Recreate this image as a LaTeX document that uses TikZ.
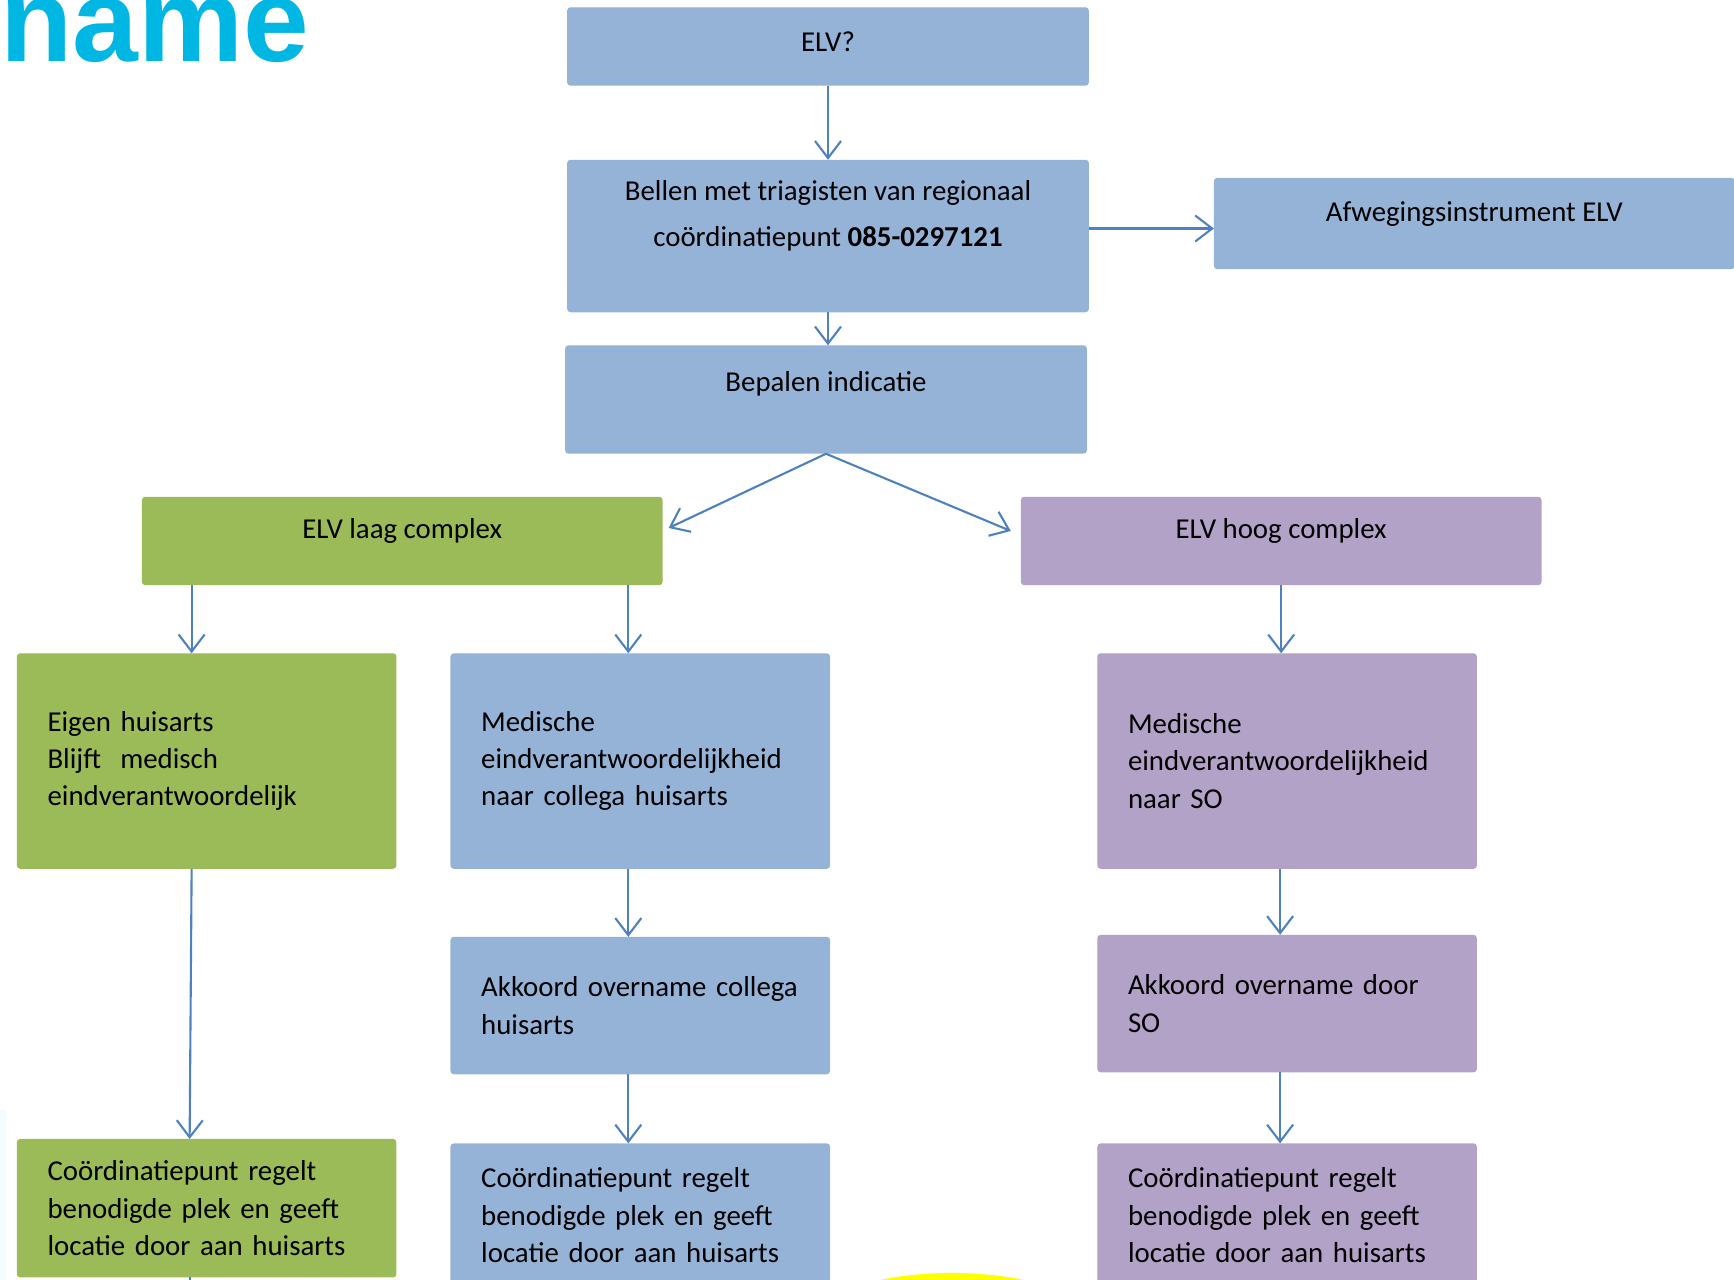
\documentclass[tikz,border=0pt]{standalone}
\usepackage{fontspec}
\setmainfont{Carlito}
\newfontfamily\namefont{Liberation Sans}
\usetikzlibrary{positioning, arrows.meta, calc}
\definecolor{elvblue}{HTML}{95B3D7}
\definecolor{elvgreen}{HTML}{9BBB59}
\definecolor{elvpurple}{HTML}{B3A2C7}
\definecolor{elvarrow}{HTML}{4F81BD}
\definecolor{elvcyan}{HTML}{00B7E4}
\definecolor{elvyellow}{HTML}{FFFF00}

\begin{document}
\begin{tikzpicture}[x=0.01cm, y=-0.01cm, node distance=0.7cm]
        \def\colorone{elvblue}
        \def\colorlow{elvgreen}
        \def\colorhigh{elvpurple}
        \tikzset{headstep/.style={align=center,
                fill=\colorone,
                draw=\colorone,
                line width=0.4pt,
                rounded corners=0.8pt,
                minimum width=5.2cm,
                inner sep=0pt,
                font=\fontsize{8.2}{13.3}\selectfont
        }}
        \tikzset{textstep/.style={align=left,
                fill=\colorone,
                draw=\colorone,
                line width=0.4pt,
                rounded corners=0.8pt,
                text width=3.18cm,
                inner xsep=0.3cm,
                inner ysep=0pt,
                font=\fontsize{8.2}{10.6}\selectfont
        }}
        \tikzset{lowstep/.style={fill=\colorlow, draw=\colorlow}}
        \tikzset{highstep/.style={fill=\colorhigh, draw=\colorhigh}}
        \tikzset{connector/.style={-{Straight Barb[length=0.17cm, width=0.26cm]},
                draw=elvarrow, line width=0.6pt}}

        \clip (0,0) rectangle (1734,1280);
        \fill[elvcyan!5] (0,1110) rectangle (6,1280);
        \node[anchor=base west, inner sep=0pt, text=elvcyan,
              font=\namefont\bfseries\fontsize{33.6}{33.6}\selectfont] (title) at (0,62) {name};

        \node[headstep, minimum height=0.77cm, text depth=0.09cm] (elv) at (828,46.5) {ELV?};
        \node[headstep, minimum height=1.51cm, text depth=0.45cm, below=0.74cm of elv] (bellen)
              {Bellen met triagisten van regionaal\\coördinatiepunt \textbf{085-0297121}};
        \node[headstep, minimum width=5.19cm, minimum height=0.9cm, text depth=0.23cm,
              right=1.25cm of bellen, yshift=0.125cm] (afweg) {Afwegingsinstrument ELV};
        \draw[connector] (elv.south) -- (elv.south |- bellen.north);
        \draw[connector] ($(bellen.east |- afweg.west)+(0,5)$) -- ($(afweg.west)+(0,5)$);
        \node[headstep, minimum height=1.07cm, text depth=0.37cm, below=0.33cm of bellen,
              xshift=-0.02cm] (bepalen) {Bepalen indicatie};
        \draw[connector] (bellen.south) -- (bellen.south |- bepalen.north);

        \node[headstep, lowstep, minimum width=5.19cm, minimum height=0.87cm, text depth=0.24cm,
              below=0.43cm of bepalen, xshift=-4.235cm] (laag) {ELV laag complex};
        \node[headstep, highstep, minimum width=5.19cm, minimum height=0.87cm, text depth=0.24cm,
              right=3.58cm of laag] (hoog) {ELV hoog complex};
        \draw[connector] (bepalen.south) -- ($(laag.east)+(6,-13)$);
        \draw[connector] (bepalen.south) -- ($(hoog.west)+(-10,-10)$);

        \node[textstep, lowstep, minimum height=2.14cm, below=0.68cm of laag.south west,
              anchor=north west, xshift=-1.25cm] (eigen)
              {Eigen huisarts\\Blijft~ medisch\\eindverantwoordelijk};
        \node[textstep, minimum height=2.14cm, right=0.54cm of eigen] (colmed)
              {Medische\\eindverantwoordelijkheid\\naar collega huisarts};
        \node[textstep, highstep, minimum height=2.14cm, right=2.67cm of colmed] (somed)
              {Medische\\eindverantwoordelijkheid\\naar SO};
        \draw[connector] ($(laag.south -| eigen.north)+(-15,0)$) -- ($(eigen.north)+(-15,0)$);
        \draw[connector] ($(laag.south -| colmed.north)+(-12,0)$) -- ($(colmed.north)+(-12,0)$);
        \draw[connector] (hoog.south) -- (hoog.south |- somed.north);

        \node[textstep, minimum height=1.36cm, below=0.68cm of colmed] (colakk)
              {Akkoord overname collega\\huisarts};
        \node[textstep, highstep, minimum height=1.36cm, below=0.66cm of somed] (soakk)
              {Akkoord overname door\\SO};
        \draw[connector] ($(colmed.south)+(-12,0)$) -- ($(colakk.north)+(-12,0)$);
        \draw[connector] ($(somed.south)+(-7,0)$) -- ($(soakk.north)+(-7,0)$);

        \node[textstep, lowstep, minimum height=1.37cm, below=2.70cm of eigen] (eigencoord)
              {Coördinatiepunt regelt\\benodigde plek en geeft\\locatie door aan huisarts};
        \node[textstep, minimum height=1.42cm, below=0.69cm of colakk] (colcoord)
              {Coördinatiepunt regelt\\benodigde plek en geeft\\locatie door aan huisarts};
        \node[textstep, highstep, minimum height=1.42cm, below=0.71cm of soakk] (socoord)
              {Coördinatiepunt regelt\\benodigde plek en geeft\\locatie door aan huisarts};
        \draw[connector] ($(eigen.south)+(-15,0)$) -- ($(eigencoord.north)+(-17,0)$);
        \draw[connector] ($(colakk.south)+(-12,0)$) -- ($(colcoord.north)+(-12,0)$);
        \draw[connector] ($(soakk.south)+(-7,0)$) -- ($(socoord.north)+(-7,0)$);
        \coordinate (eigenout) at ($(eigencoord.south)+(-17,40)$);
        \draw[elvarrow, line width=0.6pt] ($(eigencoord.south)+(-17,0)$) -- (eigenout);

        \fill[elvyellow] (952,1330) ellipse [x radius=1.5cm, y radius=0.57cm];
\end{tikzpicture}
\end{document}
